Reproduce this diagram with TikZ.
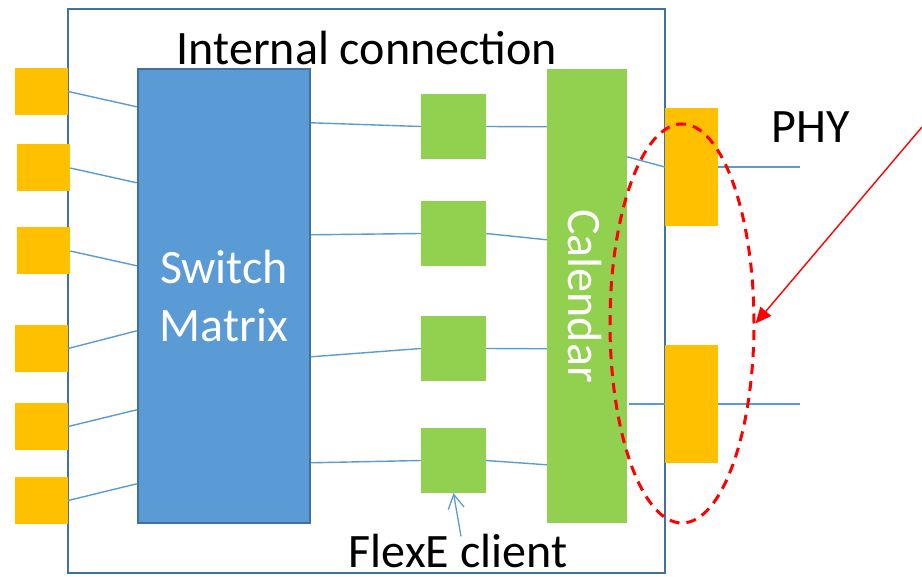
\documentclass[tikz,border=0pt]{standalone}
\usepackage{fontspec}
\setmainfont{Carlito}
\usetikzlibrary{arrows.meta,shapes.geometric}
\definecolor{portyellow}{HTML}{FFC000}
\definecolor{swblue}{HTML}{5B9BD5}
\definecolor{edgeblue}{HTML}{41719C}
\definecolor{clgreen}{HTML}{92D050}

\begin{document}
\begin{tikzpicture}[x=1pt,y=-1pt,
  port/.style={fill=portyellow,inner sep=0pt,minimum width=53pt,minimum height=47pt},
  client/.style={fill=clgreen,inner sep=0pt,minimum width=65pt,minimum height=65pt},
  link/.style={draw=swblue,line width=1.4pt},
  big/.style={font=\fontsize{48}{58}\selectfont}]
\path[use as bounding box] (0,0) rectangle (922,577);
% outer box
\node[draw=edgeblue,line width=2.8pt,minimum width=597pt,minimum height=564pt,inner sep=0pt] (chip) at (366.5,291) {};
\node[big,anchor=base,inner sep=0pt] (title) at (367,65) {Internal connection};
% left ports
\node[port] (in1) at (41.5,91.5) {};
\node[port] (in2) at (43.5,168) {};
\node[port] (in3) at (43.5,251) {};
\node[port] (in4) at (41.5,348.5) {};
\node[port] (in5) at (41.5,426.5) {};
\node[port] (in6) at (41.5,500.5) {};
% switch matrix
\node[draw=edgeblue,fill=swblue,line width=2.4pt,minimum width=172pt,minimum height=454pt,inner sep=0pt,
  big,text=white,align=center] (switch) at (224,296) {Switch\\Matrix};
\draw[link] (in1.east) -- ([yshift=-39pt]switch.north west);
\draw[link] (in2.east) -- ([yshift=-115pt]switch.north west);
\draw[link] (in3.east) -- ([yshift=-198pt]switch.north west);
\draw[link] (in4.east) -- ([yshift=-263pt]switch.north west);
\draw[link] (in5.east) -- ([yshift=-342pt]switch.north west);
\draw[link] (in6.east) -- ([yshift=-416pt]switch.north west);
% flexe clients
\node[client] (cl1) at (453.5,126.5) {};
\node[client] (cl2) at (453.5,233.5) {};
\node[client] (cl3) at (453.5,348.5) {};
\node[client] (cl4) at (453.5,460.5) {};
\draw[link] ([yshift=-55pt]switch.north east) -- (cl1.west);
\draw[link] ([yshift=-167pt]switch.north east) -- (cl2.west);
\draw[link] ([yshift=-289pt]switch.north east) -- (cl3.west);
\draw[link] ([yshift=-395pt]switch.north east) -- (cl4.west);
% calendar
\node[fill=clgreen,minimum width=80pt,minimum height=454pt,inner sep=0pt] (cal) at (587,296) {};
\node[big,text=white,rotate=-90,inner sep=0pt] (caltext) at ([xshift=-2pt]cal.center) {Calendar};
\draw[link] (cl1.east) -- ([yshift=-58pt]cal.north west);
\draw[link] (cl2.east) -- ([yshift=-171pt]cal.north west);
\draw[link] (cl3.east) -- ([yshift=-280pt]cal.north west);
\draw[link] (cl4.east) -- ([yshift=-396pt]cal.north west);
% phy
\node[fill=portyellow,inner sep=0pt,minimum width=53pt,minimum height=118pt] (phy1) at (691.5,167) {};
\node[fill=portyellow,inner sep=0pt,minimum width=53pt,minimum height=118pt] (phy2) at (691.5,404) {};
\coordinate (out1) at (800,167);
\coordinate (out2) at (800,404);
\draw[link] ([yshift=-88pt]cal.north east) -- (phy1.west);
\draw[link] (phy1.east) -- (out1);
\draw[link] ([xshift=2pt]cal.east |- phy2.west) -- (phy2.west);
\draw[link] (phy2.east) -- (out2);
\node[big,anchor=base,inner sep=0pt] (phylabel) at (810.5,143) {PHY};
% group of phys
\node[ellipse,draw=red,line width=3pt,dash pattern=on 10pt off 7pt,minimum width=144pt,minimum height=399pt,inner sep=0pt] (grp) at (682,323.5) {};
\coordinate (tail) at (922,127);
\draw[red,line width=1.4pt,-{Triangle[length=16pt,width=14pt]}] (tail) -- (grp.east);
% client label
\node[big,anchor=base,inner sep=0pt] (cllabel) at (458,567) {FlexE client};
\draw[swblue,line width=1.3pt,-{Straight Barb[length=14pt,width=16pt]}] ([xshift=3pt,yshift=-3pt]cllabel.north) -- (cl4.south);
\end{tikzpicture}
\end{document}
